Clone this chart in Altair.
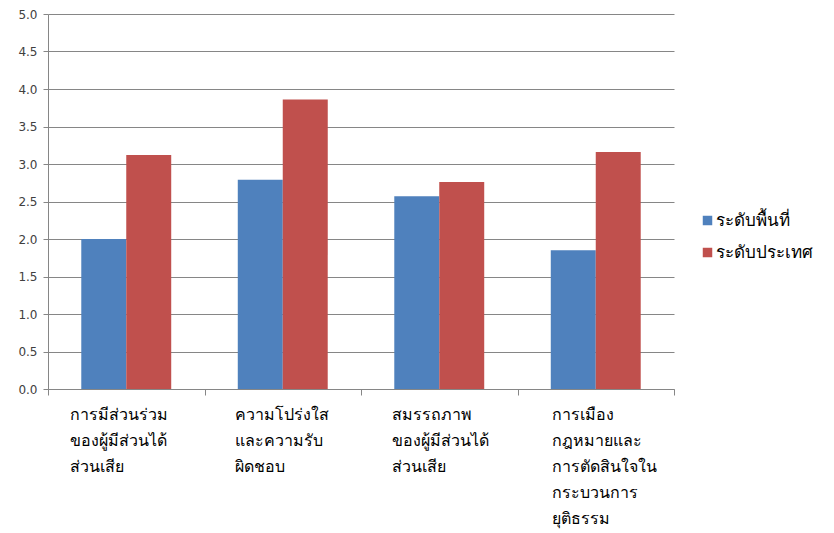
import altair as alt
import pandas as pd

categories = [
    "การมีส่วนร่วม\nของผู้มีส่วนได้\nส่วนเสีย",
    "ความโปร่งใส\nและความรับ\nผิดชอบ",
    "สมรรถภาพ\nของผู้มีส่วนได้\nส่วนเสีย",
    "การเมือง\nกฎหมายและ\nการตัดสินใจใน\nกระบวนการ\nยุติธรรม",
]
series = ["ระดับพื้นที่", "ระดับประเทศ"]
local_values = [2.00, 2.79, 2.57, 1.85]
national_values = [3.12, 3.86, 2.76, 3.16]
colors = ["#4F81BD", "#C0504D"]

rows = []
for c, a, b in zip(categories, local_values, national_values):
    rows.append({"cat": c, "series": series[0], "value": a})
    rows.append({"cat": c, "series": series[1], "value": b})
df = pd.DataFrame(rows)

font = "Noto Sans"

label_offset = {
    "condition": [
        {"test": "datum.index < 0.1", "value": -57},
        {"test": "datum.index > 0.9", "value": -44},
    ],
    "value": -48,
}

chart = alt.Chart(df).mark_bar().encode(
    x=alt.X("cat:N", sort=categories, title=None,
            scale=alt.Scale(paddingInner=0, paddingOuter=0),
            axis=alt.Axis(labelAngle=0, labelExpr="split(datum.label, '\\n')",
                          labelAlign="left", labelOffset=label_offset, labelBaseline="top",
                          labelLineHeight=26, labelFontSize=16, labelColor="#000000",
                          labelFont=font, labelPadding=11,
                          tickBand="extent", tickSize=6, tickColor="#868686",
                          domainColor="#868686", grid=False)),
    xOffset=alt.XOffset("series:N", sort=series,
                        scale=alt.Scale(paddingOuter=0.74, paddingInner=0)),
    y=alt.Y("value:Q", title=None,
            scale=alt.Scale(domain=[0, 5]),
            axis=alt.Axis(values=[0, 0.5, 1, 1.5, 2, 2.5, 3, 3.5, 4, 4.5, 5],
                          format=".1f", labelFontSize=12, labelColor="#404040",
                          labelFont="DejaVu Sans", tickSize=5, tickColor="#868686",
                          domainColor="#868686", gridColor="#868686", labelPadding=6)),
    color=alt.Color("series:N", sort=series,
                    scale=alt.Scale(domain=series, range=colors),
                    legend=alt.Legend(title=None, orient="none", legendX=651, legendY=198,
                                      symbolType="square", symbolSize=90,
                                      symbolStrokeWidth=0, labelFontSize=17,
                                      labelFont=font, labelColor="#000000",
                                      labelOffset=0, rowPadding=14, labelLimit=300)),
).properties(
    width=626, height=375,
    padding={"left": 9, "top": 0, "right": 5, "bottom": 5},
).configure_view(stroke=None)

chart.save("out.html", embed_options={"renderer": "svg", "actions": False})
